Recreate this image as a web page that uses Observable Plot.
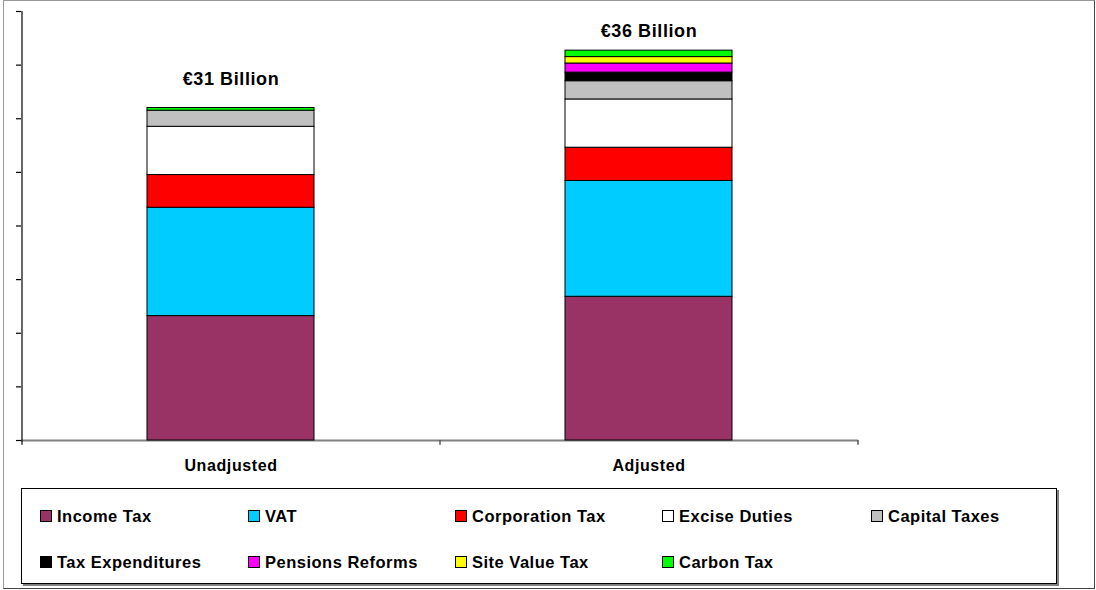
<!DOCTYPE html>
<html>
<head>
<meta charset="utf-8">
<script src="https://cdn.jsdelivr.net/npm/d3@7"></script>
<script src="https://cdn.jsdelivr.net/npm/@observablehq/plot@0.6"></script>
<style>
  html, body { margin: 0; padding: 0; background: #fff; }
  body { width: 1096px; height: 590px; position: relative; overflow: hidden;
         font-family: "Liberation Sans", Arial, sans-serif; }
  #frame { position: absolute; left: 3px; top: 0px; width: 1092px; height: 589px;
           border: 1px solid #999; border-right-color: #444; border-bottom-color: #444; box-sizing: border-box; }
  #chart { position: absolute; left: 0; top: 0; }
  #chart svg text { letter-spacing: 0.6px; }
  #legend { position: absolute; left: 21px; top: 488px; width: 1036px; height: 96px;
            border: 1px solid #000; box-sizing: border-box; box-shadow: 2px 2px 0 #808080; background: #fff; }
  .item { position: absolute; display: flex; align-items: center; font-weight: bold;
          font-size: 16.5px; letter-spacing: 0.5px; color: #000; white-space: nowrap; }
  .sw { width: 10px; height: 10px; border: 1px solid #000; margin-right: 5px; flex: none; }
</style>
</head>
<body>
<div id="frame"></div>
<div id="chart"></div>
<div id="legend"></div>
<script>
const categories = ["Unadjusted", "Adjusted"];
const series = ["Income Tax", "VAT", "Corporation Tax", "Excise Duties", "Capital Taxes",
                "Tax Expenditures", "Pensions Reforms", "Site Value Tax", "Carbon Tax"];
const colors = ["#993366", "#00CCFF", "#FF0000", "#FFFFFF", "#C0C0C0",
                "#000000", "#FF00FF", "#FFFF00", "#00FF00"];
const unadjusted = [11.6, 10.1, 3.05, 4.5, 1.5, 0, 0, 0, 0.25];
const adjusted   = [13.4, 10.8, 3.1, 4.5, 1.7, 0.8, 0.85, 0.6, 0.6];
const totalLabels = ["€31 Billion", "€36 Billion"];
const yTicks = [0, 5, 10, 15, 20, 25, 30, 35, 40];

const valuesByCat = [unadjusted, adjusted];
const rows = [];
categories.forEach((c, ci) => {
  series.forEach((s, si) => {
    const v = valuesByCat[ci][si];
    if (v > 0) rows.push({category: c, series: s, value: v});
  });
});
const totals = categories.map((c, ci) => ({
  category: c,
  total: d3.sum(valuesByCat[ci]),
  label: totalLabels[ci]
}));

const plot = Plot.plot({
  width: 1096,
  height: 480,
  marginLeft: 21,
  marginRight: 238,
  marginTop: 11,
  marginBottom: 40,
  style: {fontFamily: "'Liberation Sans', Arial, sans-serif", background: "transparent", overflow: "visible"},
  x: {domain: categories, paddingInner: 0.6, paddingOuter: 0.3, axis: null},
  y: {domain: [0, 40], axis: null},
  color: {domain: series, range: colors},
  marks: [
    Plot.axisY({ticks: yTicks, tickFormat: () => "", tickSize: 5, stroke: "#000", strokeWidth: 1.2}),
    Plot.ruleY([0], {stroke: "#808080", strokeWidth: 2}),
    Plot.barY(rows, {x: "category", y: "value", fill: "series", stroke: "#000", strokeWidth: 1, inset: 0}),
    // vertical axis line
    Plot.ruleX(categories.slice(0, 1), {x: d => d, dx: -209, y1: -0.45, y2: 40, stroke: "#000", strokeWidth: 1.2}),
    // category boundary ticks
    Plot.ruleX(categories, {x: d => d, dx: 209, y1: 0, y2: -0.45, stroke: "#555", strokeWidth: 1.5}),
    Plot.text(categories, {x: d => d, y: 0, dy: 25, text: d => d, fontSize: 16, fontWeight: "bold", fill: "#000"}),
    Plot.text(totals.filter(d => d.category === "Unadjusted"), {x: "category", y: "total", dy: -29, text: "label", fontSize: 18, fontWeight: "bold", fill: "#000"}),
    Plot.text(totals.filter(d => d.category === "Adjusted"), {x: "category", y: "total", dy: -19, text: "label", fontSize: 18, fontWeight: "bold", fill: "#000"})
  ]
});
document.getElementById("chart").appendChild(plot);

// legend
const colX = [18, 226, 433, 640, 849];
const rowY = [27, 73];
const legend = document.getElementById("legend");
series.forEach((s, i) => {
  const r = Math.floor(i / 5), c = i % 5;
  const item = document.createElement("div");
  item.className = "item";
  item.style.left = colX[c] + "px";
  item.style.top = (rowY[r] - 11) + "px";
  item.style.height = "22px";
  const sw = document.createElement("div");
  sw.className = "sw";
  sw.style.background = colors[i];
  item.appendChild(sw);
  const t = document.createElement("span");
  t.textContent = s;
  item.appendChild(t);
  legend.appendChild(item);
});
</script>
</body>
</html>
